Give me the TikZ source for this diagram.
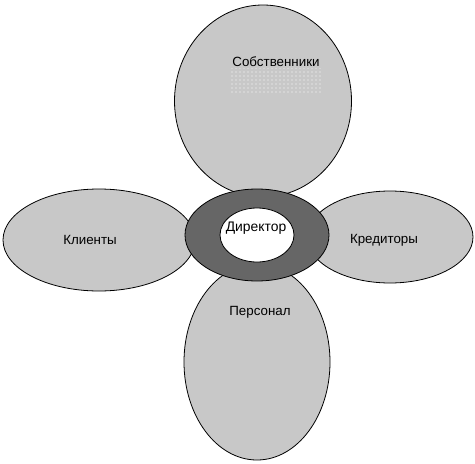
\documentclass[tikz,border=0pt]{standalone}
\usepackage{fontspec}
\setmainfont{Liberation Sans}
\usetikzlibrary{shapes.geometric,patterns}

\definecolor{petalgray}{HTML}{C8C8C8}
\definecolor{ringgray}{HTML}{666666}

\begin{document}
\begin{tikzpicture}[x=0.75pt, y=-0.75pt,
    petal/.style = {draw, ellipse, fill=petalgray, inner sep=0pt, line width=0.6pt},
    word/.style = {font=\fontsize{10}{12}\selectfont}]
        \useasboundingbox (0,0) rectangle (475,464);
        \node[petal, minimum width=177*0.75pt, minimum height=192*0.75pt] (owners) at (263,101) {};
        \node[petal, minimum width=192*0.75pt, minimum height=102*0.75pt] (clients) at (99,240) {};
        \node[petal, minimum width=166*0.75pt, minimum height=92*0.75pt] (creditors) at (390,237) {};
        \node[petal, minimum width=146*0.75pt, minimum height=196*0.75pt] (staff) at (257,362) {};
        \node[petal, fill=ringgray, minimum width=144*0.75pt, minimum height=92*0.75pt] (ring) at (257,235) {};
        \node[petal, fill=white, minimum width=74*0.75pt, minimum height=54*0.75pt] (director) at (ring.center) {};
        % labels
        \node[word] (ownerstext) at (276,62) {Собственники};
        \draw[draw=none, pattern=dots, pattern color=white] (230,68) rectangle (322,94);
        \node[word] (clientstext) at (90,240) {Клиенты};
        \node[word] (creditorstext) at (384,240) {Кредиторы};
        \node[word] (stafftext) at (260,312) {Персонал};
        \node[word, font=\fontsize{10.4}{12}\selectfont] (directortext) at (256,228) {Директор};
    \end{tikzpicture}
\end{document}
